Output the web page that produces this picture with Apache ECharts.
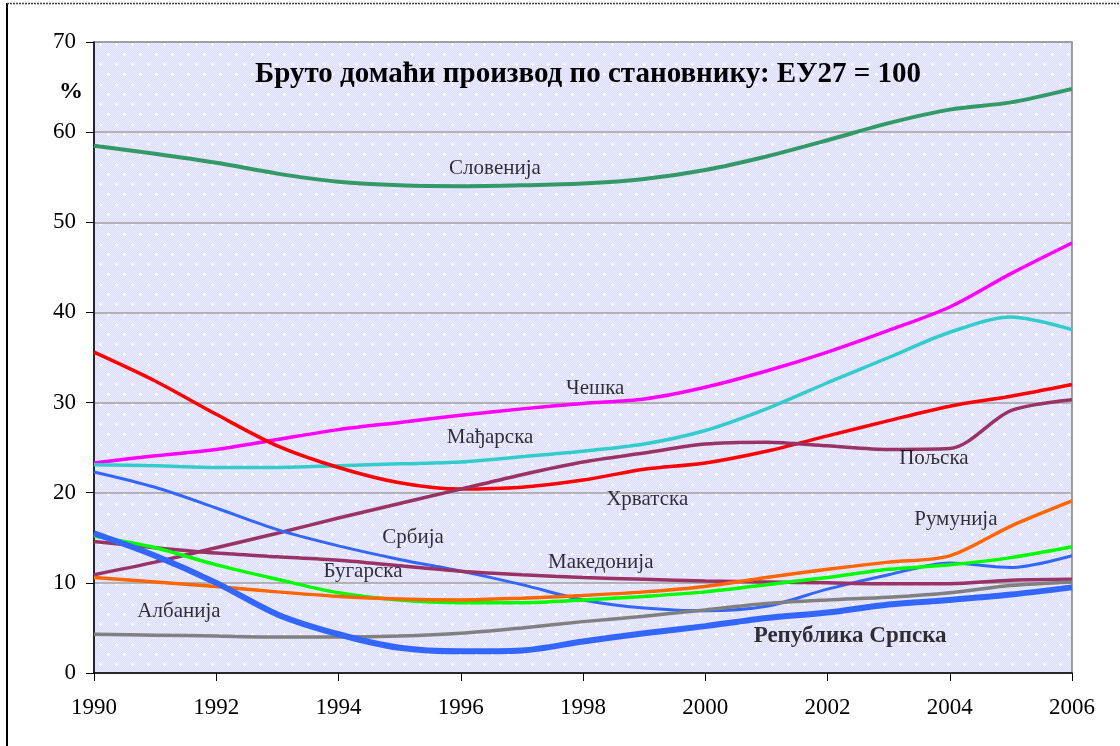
<!DOCTYPE html>
<html>
<head>
<meta charset="utf-8">
<script src="https://cdn.jsdelivr.net/npm/echarts@6/dist/echarts.min.js"></script>
<style>
  html, body { margin: 0; padding: 0; background: #fff; }
  #chart { width: 1120px; height: 746px; }
</style>
</head>
<body>
<div id="chart"></div>
<script>
// years on the x axis
const years = [1990, 1991, 1992, 1993, 1994, 1995, 1996, 1997, 1998, 1999, 2000, 2001, 2002, 2003, 2004, 2005, 2006]

// GDP per capita, EU27 = 100
const slovenia = [58.5, 57.6, 56.6, 55.4, 54.5, 54.1, 54.0, 54.1, 54.3, 54.8, 55.8, 57.3, 59.1, 61.0, 62.5, 63.3, 64.8]
const czech = [23.3, 24.1, 24.8, 25.9, 27.0, 27.8, 28.6, 29.3, 29.9, 30.4, 31.7, 33.5, 35.6, 38.0, 40.6, 44.3, 47.7]
const hungary = [23.1, 23.0, 22.8, 22.8, 23.0, 23.2, 23.4, 24.0, 24.6, 25.4, 26.9, 29.3, 32.2, 35.0, 37.8, 39.5, 38.1]
const croatia = [35.6, 32.4, 28.7, 25.2, 22.8, 21.1, 20.4, 20.6, 21.4, 22.6, 23.3, 24.6, 26.3, 28.0, 29.6, 30.7, 32.0]
const poland = [10.9, 12.3, 13.9, 15.5, 17.2, 18.8, 20.4, 22.0, 23.4, 24.4, 25.4, 25.6, 25.2, 24.8, 24.9, 29.1, 30.3]
const serbia = [22.3, 20.6, 18.3, 15.9, 14.1, 12.6, 11.3, 9.8, 8.1, 7.2, 6.9, 7.4, 9.3, 10.9, 12.2, 11.7, 13.0]
const macedonia = [14.6, 13.9, 13.3, 12.9, 12.5, 11.9, 11.3, 10.9, 10.6, 10.4, 10.2, 10.1, 10.0, 9.9, 9.9, 10.3, 10.4]
const bulgaria = [15.2, 13.9, 12.0, 10.4, 8.9, 8.1, 7.8, 7.8, 8.1, 8.5, 9.0, 9.8, 10.6, 11.5, 12.0, 12.8, 14.0]
const romania = [10.6, 10.1, 9.6, 9.0, 8.5, 8.2, 8.1, 8.3, 8.6, 9.0, 9.6, 10.6, 11.5, 12.3, 13.0, 16.3, 19.1]
const albania = [4.3, 4.2, 4.1, 4.0, 4.0, 4.1, 4.4, 5.0, 5.7, 6.3, 7.0, 7.7, 8.1, 8.4, 8.9, 9.7, 10.1]
const rSrpska = [15.5, 13.0, 10.0, 6.5, 4.3, 2.8, 2.4, 2.5, 3.5, 4.4, 5.2, 6.1, 6.7, 7.6, 8.1, 8.7, 9.5]

// series names and where their name tags sit (in data units)
const names = ['Словенија', 'Чешка', 'Мађарска', 'Хрватска', 'Пољска', 'Србија', 'Македонија', 'Бугарска', 'Румунија', 'Албанија', 'Република Српска']
const tagYears = [1996.56, 1998.2, 1996.48, 1999.05, 2003.74, 1995.22, 1998.29, 1994.4, 2004.1, 1991.39, 2002.37]
const tagValues = [56.0, 31.6, 26.1, 19.3, 23.85, 15.0, 12.3, 11.3, 17.0, 6.77, 4.1]

const yTicks = [0, 10, 20, 30, 40, 50, 60, 70]

const allSeries = [slovenia, czech, hungary, croatia, poland, serbia, macedonia, bulgaria, romania, albania, rSrpska]
const colors = ['#339966', '#ff00ff', '#33cccc', '#ff0000', '#993366', '#3366ff', '#993366', '#00ff00', '#ff6600', '#808080', '#3366ff']
const widths = [4, 3.5, 3.5, 3.5, 3.5, 3, 3.5, 3.5, 3.5, 3.5, 6]

const serif = '"Liberation Serif", "Times New Roman", serif'

// dotted lavender fill like the old excel plot area
function makePattern() {
  const c = document.createElement('canvas')
  c.width = 16
  c.height = 20
  const ctx = c.getContext('2d')
  ctx.fillStyle = '#dcdcfc'
  ctx.fillRect(0, 0, 16, 20)
  ctx.fillStyle = '#ebebff'
  for (let y = 0; y < 20; y++) {
    for (let x = (y % 2); x < 16; x += 2) ctx.fillRect(x, y, 1, 1)
  }
  ctx.fillStyle = '#ffffff'
  const cross = (x, y) => {
    ctx.fillRect(x, y - 1, 1, 3)
    ctx.fillRect(x - 1, y, 3, 1)
  }
  cross(4, 4)
  cross(12, 14)
  return c
}

const chart = echarts.init(document.getElementById('chart'), null, { renderer: 'canvas' })

const series = allSeries.map((vals, i) => ({
  name: names[i],
  type: 'line',
  smooth: 0.3,
  symbol: 'none',
  z: i === 10 ? 5 : 3,
  lineStyle: { color: colors[i], width: widths[i] },
  data: years.map((y, k) => [y, vals[k]]),
}))

series.push({
  type: 'scatter',
  symbolSize: 0,
  silent: true,
  z: 10,
  data: names.map((n, i) => ({
    value: [tagYears[i], tagValues[i]],
    label: {
      show: true,
      formatter: n,
      position: 'inside',
      color: '#000',
      fontFamily: serif,
      fontSize: i === 10 ? 23 : 21,
      fontWeight: i === 10 ? 'bold' : 'normal',
    },
  })),
})

chart.setOption({
  animation: false,
  title: {
    text: 'Бруто домаћи производ по становнику: ЕУ27 = 100',
    left: 583,
    top: 55,
    textAlign: 'center',
    textStyle: {
      fontFamily: serif,
      fontSize: 29,
      fontWeight: 'bold',
      color: '#000',
    },
  },
  grid: {
    left: 94,
    right: 48,
    top: 42,
    bottom: 73,
    show: true,
    borderColor: '#808080',
    borderWidth: 1.5,
    backgroundColor: { image: makePattern(), repeat: 'repeat' },
  },
  xAxis: {
    type: 'value',
    min: 1990,
    max: 2006,
    interval: 2,
    axisLine: { show: true, lineStyle: { color: '#000', width: 1.5 } },
    axisTick: { show: true, length: 8, inside: false, lineStyle: { color: '#000' } },
    splitLine: { show: false },
    axisLabel: {
      margin: 23,
      color: '#000',
      fontFamily: serif,
      fontSize: 23,
      formatter: (v) => String(v),
    },
  },
  yAxis: {
    type: 'value',
    min: yTicks[0],
    max: yTicks[yTicks.length - 1],
    interval: 10,
    axisLine: { show: true, lineStyle: { color: '#000', width: 1.5 } },
    axisTick: { show: true, length: 8, inside: false, lineStyle: { color: '#000' } },
    splitLine: { show: true, lineStyle: { color: '#a0a0a0', width: 1.5 } },
    axisLabel: {
      margin: 18,
      color: '#000',
      fontFamily: serif,
      fontSize: 23,
    },
  },
  graphic: [
    {
      type: 'text',
      left: 59,
      top: 80,
      style: {
        text: '%',
        fill: '#000',
        font: 'bold 24px "Liberation Serif", serif',
      },
    },
    {
      type: 'line',
      shape: { x1: 7, y1: 3, x2: 7, y2: 746 },
      style: { stroke: '#000', lineWidth: 2 },
    },
    {
      type: 'line',
      shape: { x1: 7, y1: 3.5, x2: 1120, y2: 3.5 },
      style: { stroke: '#444', lineWidth: 1.5, lineDash: [2, 1] },
    },
  ],
  series,
})

window.addEventListener('resize', () => chart.resize())
</script>
</body>
</html>
